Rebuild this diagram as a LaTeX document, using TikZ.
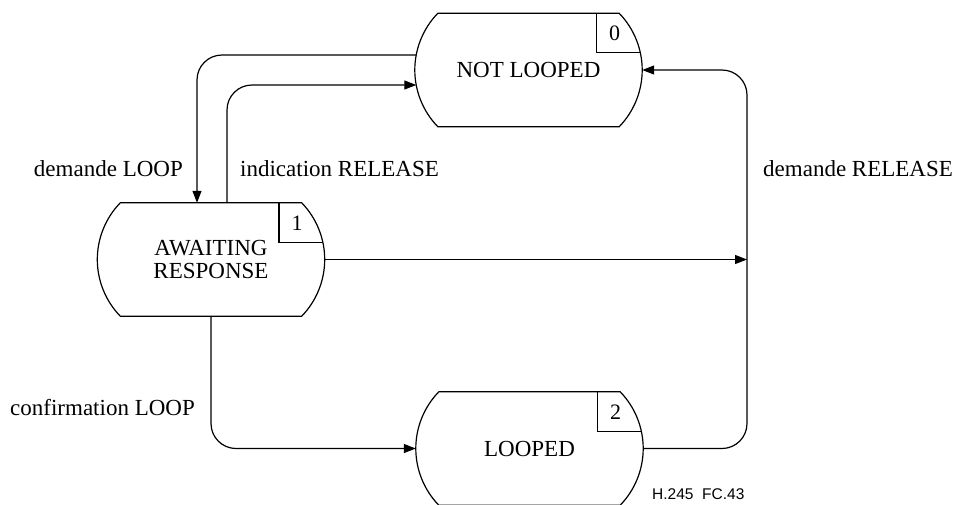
\documentclass[tikz,border=0pt]{standalone}
\usepackage{fontspec}
\setmainfont{Liberation Serif}
\newfontfamily\refsans{Liberation Sans}
\usetikzlibrary{calc,arrows.meta}
\newcommand\statefont{\fontsize{23}{22.3}\selectfont}
\newcommand\numfont{\fontsize{22}{22}\selectfont}
\newcommand\lblfont{\fontsize{23}{24}\selectfont}
\newcommand\statedraw[2]{%
  \draw[shapeline] ($(#1.north west)+(23,0)$) -- ($(#1.north east)+(-23,0)$)
    .. controls ($(#1.north east)+(-8.3,15.1)$) and ($(#1.east)+(0,-21.1)$) .. (#1.east)
    .. controls ($(#1.east)+(0,21.1)$) and ($(#1.south east)+(-8.3,-15.1)$) .. ($(#1.south east)+(-23,0)$)
    -- ($(#1.south west)+(23,0)$)
    .. controls ($(#1.south west)+(8.3,-15.1)$) and ($(#1.west)+(0,21.1)$) .. (#1.west)
    .. controls ($(#1.west)+(0,-21.1)$) and ($(#1.north west)+(8.3,15.1)$) .. ($(#1.north west)+(23,0)$)
    -- cycle;
  \draw[shapeline] ($(#1.north)+(68,0)$) -- ($(#1.north)+(68,39.5)$) -- ($(#1.north)+(111.5,39.5)$);
  \node[numlbl] (#1num) at ($(#1.north)+(86,20)$) {#2};
}
\begin{document}
\begin{tikzpicture}[x=1pt,y=-1pt,
  state/.style={minimum width=227pt,minimum height=113pt,inner sep=0pt,font=\statefont,align=center},
  shapeline/.style={line width=1.2pt},
  numlbl/.style={font=\numfont,inner sep=0pt},
  lbl/.style={font=\lblfont,inner sep=0pt},
  conn/.style={line width=1.2pt,rounded corners=25pt},
  arr/.style={-{Triangle[length=12pt,width=9pt]}}]
\useasboundingbox (0,0) rectangle (959,504);
% states
\node[state] (NL) at (528.5,70) {NOT LOOPED};
\node[state] (AR) at (211,259.5) {AWAITING\\RESPONSE};
\node[state] (LP) at (529.5,448.5) {LOOPED};
\statedraw{NL}{0}
\statedraw{AR}{1}
\statedraw{LP}{2}
% helper coordinates
\coordinate (xa) at (197,0);
\coordinate (xb) at (227,0);
\coordinate (xc) at (747,0);
\coordinate (nlA) at ($(NL.west)+(1.5,-15)$);
\coordinate (nlB) at ($(NL.west)+(1.5,15)$);
% connectors
\draw[conn,arr] (nlA) -| (xa |- AR.north);
\draw[conn,arr] (xb |- AR.north) |- (nlB);
\draw[conn,arr] (AR.east) -- (xc |- AR.east);
\draw[conn,arr] (LP.east) -| (xc |- NL.east) -- (NL.east);
\draw[conn,arr] (AR.south) |- (LP.west);
% labels
\node[lbl,anchor=base east] (l1) at (183,176) {demande LOOP};
\node[lbl,anchor=base west] (l2) at (240,176) {indication RELEASE};
\node[lbl,anchor=base west] (l3) at (763,176) {demande RELEASE};
\node[lbl,anchor=base west] (l4) at (10,415) {confirmation LOOP};
\node[anchor=base west,inner sep=0pt,font=\refsans\fontsize{15.5}{16}\selectfont] (fig) at (652,499) {H.245\ \ FC.43};
\end{tikzpicture}
\end{document}
